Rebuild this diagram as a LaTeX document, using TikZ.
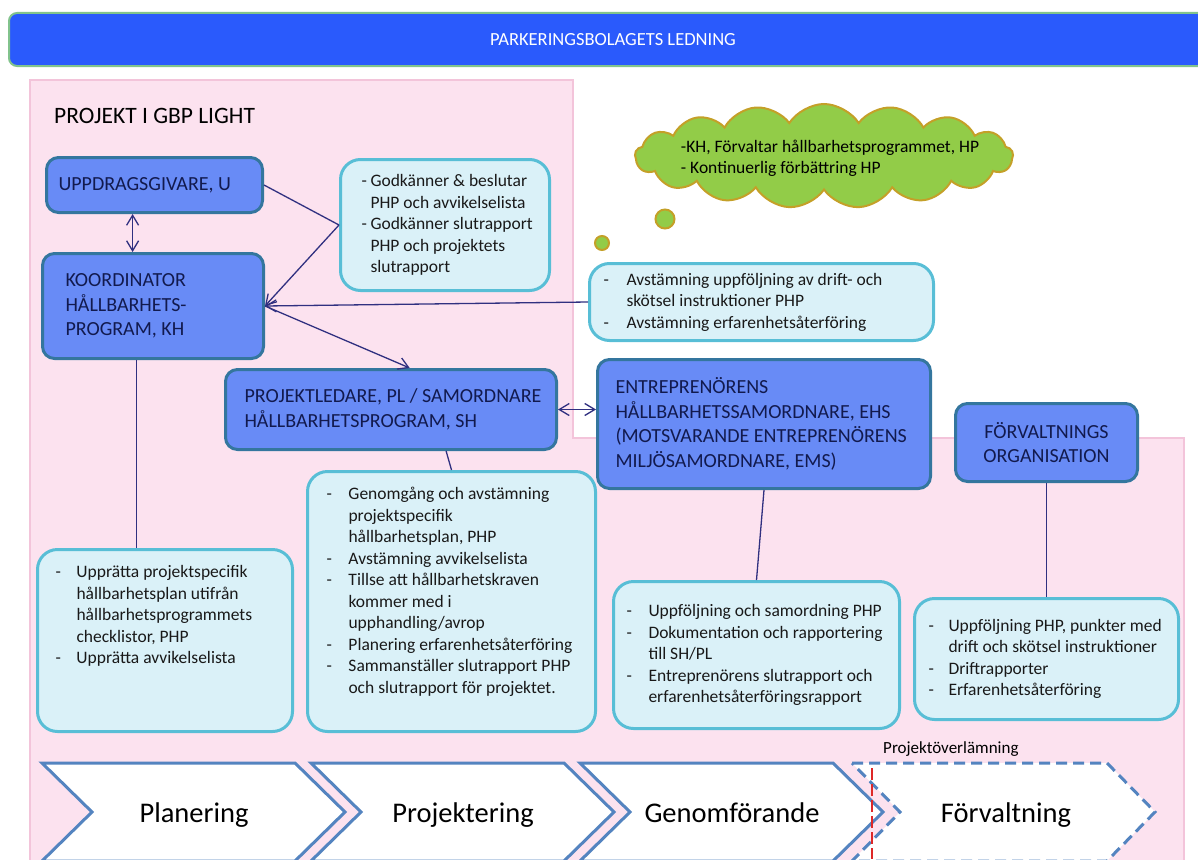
\documentclass[tikz,border=0pt]{standalone}
\usepackage{fontspec}
\setmainfont{Carlito}
\usetikzlibrary{arrows.meta,calc,shapes.symbols}

\definecolor{ledfyll}{RGB}{42,90,252}
\definecolor{ledkant}{RGB}{130,195,140}
\definecolor{rosa}{RGB}{252,226,239}
\definecolor{rosakant}{RGB}{243,196,218}
\definecolor{rollfyll}{RGB}{104,139,246}
\definecolor{rollkant}{RGB}{52,118,158}
\definecolor{rolltext}{RGB}{18,26,78}
\definecolor{uppgfyll}{RGB}{218,241,248}
\definecolor{uppgkant}{RGB}{88,190,214}
\definecolor{uppgtext}{RGB}{25,25,25}
\definecolor{linjefarg}{RGB}{48,48,128}
\definecolor{molnfyll}{RGB}{146,204,72}
\definecolor{molnkant}{RGB}{196,160,40}
\definecolor{fasfarg}{RGB}{84,132,192}
\definecolor{rodlinje}{RGB}{222,40,40}

\newcommand{\ruta}[5]{\hspace*{#1}\parbox[c][#3][#4]{\dimexpr #2-#1\relax}{\raggedright #5}}
\newcommand{\streck}[1][22pt]{\makebox[#1][l]{-}}
\newcommand{\forts}[1][22pt]{\hspace*{#1}}

\begin{document}
\begin{tikzpicture}[x=1pt, y=-1pt,
roll/.style={
	draw=rollkant, fill=rollfyll, line width=3pt,
	rounded corners=12pt, anchor=north west, inner sep=0pt,
	text=rolltext, font=\fontsize{20}{24.5}\selectfont
},
uppgift/.style={
	draw=uppgkant, fill=uppgfyll, line width=3pt,
	rounded corners=20pt, anchor=north west, inner sep=0pt,
	text=uppgtext, font=\fontsize{17.5}{21.5}\selectfont
},
moln/.style={
	cloud, cloud puffs=17, cloud puff arc=115, cloud ignores aspect,
	draw=molnkant, fill=molnfyll, line width=2pt
},
bubbla/.style={circle, draw=molnkant, fill=molnfyll, line width=2pt, inner sep=0pt},
linje/.style={draw=linjefarg, line width=1.3pt},
pil/.style={linje, -{Straight Barb[length=10pt,width=12pt]}},
dubbelpil/.style={linje, {Straight Barb[length=10pt,width=12pt]}-{Straight Barb[length=10pt,width=12pt]}},
fas/.style={draw=fasfarg, line width=3pt, fill=white, line join=miter},
fastext/.style={font=\fontsize{28.5}{34}\selectfont, anchor=base}
]
\useasboundingbox (0,0) rectangle (1198,859);
\clip (0,0) rectangle (1198,859);

\node[draw=ledkant, fill=ledfyll, line width=2pt, rounded corners=8pt,
	minimum width=1208pt, minimum height=53pt, anchor=north west, inner sep=0pt,
	text=white, font=\fontsize{18.5}{22}\selectfont] (ledning) at (8,12) {PARKERINGSBOLAGETS LEDNING};

\draw[draw=rosakant, fill=rosa, line width=1.5pt]
	(30,80) -- (573,80) -- (573,438) -- (1184,438) -- (1184,875) -- (30,875) -- cycle;
\node[anchor=base west, inner sep=0pt, font=\fontsize{23.5}{28}\selectfont] (projekt) at (54,123) {PROJEKT I GBP LIGHT};

\node[roll] (uppdr) at (45,156) {\ruta{12pt}{216pt}{55pt}{c}{UPPDRAGSGIVARE, U}};
\node[roll] (koord) at (41,252) {\ruta{23pt}{221pt}{105pt}{c}{KOORDINATOR\\HÅLLBARHETS-\\PROGRAM, KH}};
\node[roll] (projl) at (224,368) {\ruta{19pt}{331pt}{80pt}{c}{PROJEKTLEDARE, PL / SAMORDNARE\\HÅLLBARHETSPROGRAM, SH}};
\node[roll] (entr) at (596,358) {\ruta{18pt}{333pt}{129pt}{c}{ENTREPRENÖRENS\\HÅLLBARHETSSAMORDNARE, EHS\\(MOTSVARANDE ENTREPRENÖRENS\\MILJÖSAMORDNARE, EMS)}};
\node[roll] (forv) at (954,402) {\parbox[c][78pt][c]{182pt}{\centering FÖRVALTNINGS\\ORGANISATION}};

\node[uppgift] (godk) at (339,158) {\ruta{21pt}{209pt}{131pt}{c}{%
	\streck[9pt]Godkänner \& beslutar\\\forts[9pt]PHP och avvikelselista\\
	\streck[9pt]Godkänner slutrapport\\\forts[9pt]PHP och projektets\\\forts[9pt]slutrapport}};
\node[uppgift] (avst) at (588,262) {\ruta{14pt}{344pt}{77pt}{c}{%
	\streck[23pt]Avstämning uppföljning av drift- och\\\forts[23pt]skötsel instruktioner PHP\\
	\streck[23pt]Avstämning erfarenhetsåterföring}};
\node[uppgift] (khuppg) at (36,548) {\ruta{18pt}{255pt}{182pt}{t}{\vspace*{16pt}%
	\streck[21pt]Upprätta projektspecifik\\\forts[21pt]hållbarhetsplan utifrån\\
	\forts[21pt]hållbarhetsprogrammets\\\forts[21pt]checklistor, PHP\\
	\streck[21pt]Upprätta avvikelselista}};
\node[uppgift] (plupg) at (306,470) {\ruta{19pt}{288pt}{260pt}{t}{\vspace*{16pt}%
	\streck Genomgång och avstämning\\\forts projektspecifik\\\forts hållbarhetsplan, PHP\\
	\streck Avstämning avvikelselista\\
	\streck Tillse att hållbarhetskraven\\\forts kommer med i\\\forts upphandling/avrop\\
	\streck Planering erfarenhetsåterföring\\
	\streck Sammanställer slutrapport PHP\\\forts och slutrapport för projektet.}};
\node[uppgift] (entrupg) at (612,580) {\ruta{13pt}{286pt}{147pt}{c}{%
	\streck Uppföljning och samordning PHP\\
	\streck Dokumentation och rapportering\\\forts till SH/PL\\
	\streck Entreprenörens slutrapport och\\\forts erfarenhetsåterföringsrapport}};
\node[uppgift] (forvupg) at (913,597) {\ruta{14pt}{264pt}{121pt}{c}{%
	\streck[20pt]Uppföljning PHP, punkter med\\\forts[20pt]drift och skötsel instruktioner\\
	\streck[20pt]Driftrapporter\\
	\streck[20pt]Erfarenhetsåterföring}};

\node[moln, minimum width=378pt, minimum height=104pt] (moln) at (824,156) {};
\node[align=left, font=\fontsize{17.5}{21}\selectfont] (molntext) at (830,158)
	{-KH, Förvaltar hållbarhetsprogrammet, HP\\- Kontinuerlig förbättring HP};
\node[bubbla, minimum size=19pt] (stor) at (665,219) {};
\node[bubbla, minimum size=14pt] (liten) at (602,243) {};

\coordinate (ua) at ($(uppdr.south west)!.4!(uppdr.south east)$);
\coordinate (ka) at ($(koord.south west)!.425!(koord.south east)$);
\draw[dubbelpil] (ua) -- (ua |- koord.north);
\draw[linje] (uppdr.east) -- (godk.west);
\draw[pil] (godk.west) -- (koord.east);
\draw[pil] (avst.west) -- (koord.east);
\draw[pil] (koord.east) -- ($(projl.north west)!.556!(projl.north east)$);
\draw[linje] (ka) -- (ka |- khuppg.north);
\draw[linje] ($(projl.south west)!.665!(projl.south east)$) -- (plupg.north);
\draw[dubbelpil] (projl.east) -- (projl.east -| entr.west);
\draw[linje] (entr.south) -- (entrupg.north);
\draw[linje] (forv.south) -- (forvupg.north);

\foreach \x/\namn/\ord in {42/planering/Planering, 311/projektering/Projektering, 580/genomforande/Genomförande}
{
	\draw[fas] (\x,763) -- ++(253,0) -- ++(50,49) -- ++(-50,49) -- ++(-253,0) -- ++(50,-49) -- cycle;
	\node[fastext] (\namn) at (\x+152,822) {\ord};
}
\draw[fas, dash pattern=on 11pt off 6pt] (852,763) -- ++(255,0) -- ++(48,49) -- ++(-48,49) -- ++(-255,0) -- ++(48,-49) -- cycle;
\node[fastext] (forvaltning) at (1006,822) {Förvaltning};
\draw[rodlinje, line width=1.5pt, dash pattern=on 12pt off 4pt] (872,768) -- (872,859);
\node[anchor=base west, inner sep=0pt, font=\fontsize{17}{20}\selectfont] (overl) at (883,753) {Projektöverlämning};
\end{tikzpicture}
\end{document}
